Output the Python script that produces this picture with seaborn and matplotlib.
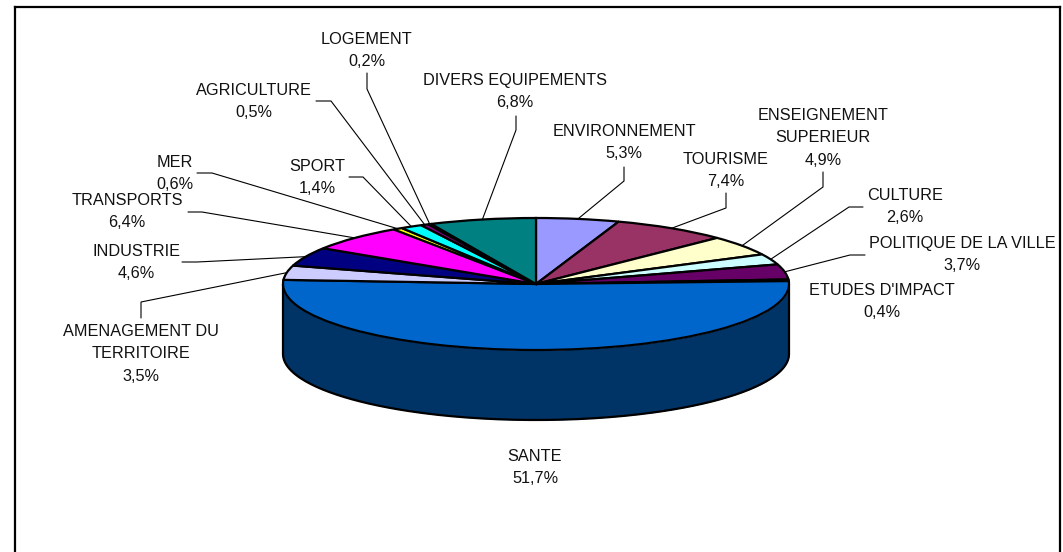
import numpy as np
import matplotlib
matplotlib.use('Agg')
import matplotlib.pyplot as plt
import seaborn as sns

categories = ['ENVIRONNEMENT', 'TOURISME', 'ENSEIGNEMENT\nSUPERIEUR', 'CULTURE',
              'POLITIQUE DE LA VILLE', "ETUDES D'IMPACT", 'SANTE',
              'AMENAGEMENT DU\nTERRITOIRE', 'INDUSTRIE', 'TRANSPORTS', 'MER',
              'SPORT', 'AGRICULTURE', 'LOGEMENT', 'DIVERS EQUIPEMENTS']
values = [5.3, 7.4, 4.9, 2.6, 3.7, 0.4, 51.7, 3.5, 4.6, 6.4, 0.6, 1.4, 0.5, 0.2, 6.8]
colors = ['#9999FF', '#993366', '#FFFFCC', '#CCFFFF', '#660066', '#FF8080', '#0066CC',
          '#CCCCFF', '#000080', '#FF00FF', '#FFFF00', '#00FFFF', '#800080', '#800000',
          '#008080']
side_color = '#003366'

# label centre (px) and leader elbow/start (px), same order as categories
label_pos = [(624, 131.5), (726, 159.5), (823, 115.5), (905, 195.5), (962, 243.5), (882, 290.5),
             (535, 456.5), (141, 331.5), (136, 251.5), (127, 200.5), (175, 162.5), (317, 166.5),
             (254, 90.5), (367, 39.5), (515, 80.5)]
leaders = [[(624, 167), (624, 181)], [(726, 193), (726, 208)], [(823, 172), (823, 187)],
           [(863, 207), (849, 207)], [(865, 255), (850, 255)], None,
           None, [(141, 318), (141, 302)], [(182, 262), (197, 262)], [(188, 212), (202, 212)],
           [(197, 173), (212, 173)], [(349, 177), (363, 177)], [(316, 101), (331, 101)],
           [(367, 73), (367, 89)], [(516, 116), (516, 130)]]

W, H = 1063, 552
cx, cy, rx, ry, depth = 536, 284, 253, 66, 70
line_h = 22.3

sns.set_theme(style='white')
plt.rcParams['font.family'] = ['Liberation Sans', 'DejaVu Sans']


def px(x, y):
    return (x - cx) / rx, (cy - y) / ry


fig = plt.figure(figsize=(W / 100, H / 100), dpi=100)
ax = fig.add_axes([0, 0, 1, 1])

# side of the pie first, only the front half shows
theta = np.linspace(np.pi / 2, 3 * np.pi / 2, 200)
x_rim = np.sin(theta)
y_rim = np.cos(theta)
ax.fill_between(x_rim, y_rim - depth / ry, y_rim, color=side_color, lw=0, zorder=1)
ax.plot(x_rim, y_rim - depth / ry, color='black', lw=1.6, zorder=2)
ax.plot([1, 1], [0, -depth / ry], color='black', lw=1.6, zorder=2)
ax.plot([-1, -1], [0, -depth / ry], color='black', lw=1.6, zorder=2)

wedges, _ = ax.pie(values, colors=sns.color_palette(colors), startangle=90, counterclock=False,
                   wedgeprops={'edgecolor': 'black', 'linewidth': 1.6, 'zorder': 3})
ax.set_aspect('auto')
ax.set_xlim(px(0, 0)[0], px(W, 0)[0])
ax.set_ylim(px(0, H)[1], px(0, 0)[1])
ax.set_axis_off()

# leaders start on the rim at each slice's middle
mids = (np.cumsum(values) - np.array(values) / 2) / sum(values) * 2 * np.pi
for i, name in enumerate(categories):
    pct = f'{values[i]:.1f}%'.replace('.', ',')
    lines = name.split('\n') + [pct]
    lx, ly = label_pos[i]
    for j, line in enumerate(lines):
        tx, ty = px(lx, ly + j * line_h)
        ax.text(tx, ty, line, ha='center', va='center', fontsize=11.7, color='#111111', zorder=5)
    if leaders[i] is not None:
        pts = [px(*p) for p in leaders[i]] + [(np.sin(mids[i]), np.cos(mids[i]))]
        ax.plot([p[0] for p in pts], [p[1] for p in pts], color='black', lw=0.8, zorder=4,
                solid_joinstyle='miter')

# chart frame, open at the bottom
for a, b in [((14.5, H), (14.5, 7)), ((14.5, 7), (1060, 7)), ((1060, 7), (1060, H))]:
    p, q = px(*a), px(*b)
    ax.plot([p[0], q[0]], [p[1], q[1]], color='black', lw=1.6, zorder=6, clip_on=False,
            solid_capstyle='projecting')

fig.savefig('out.png', dpi=100, facecolor='white')
